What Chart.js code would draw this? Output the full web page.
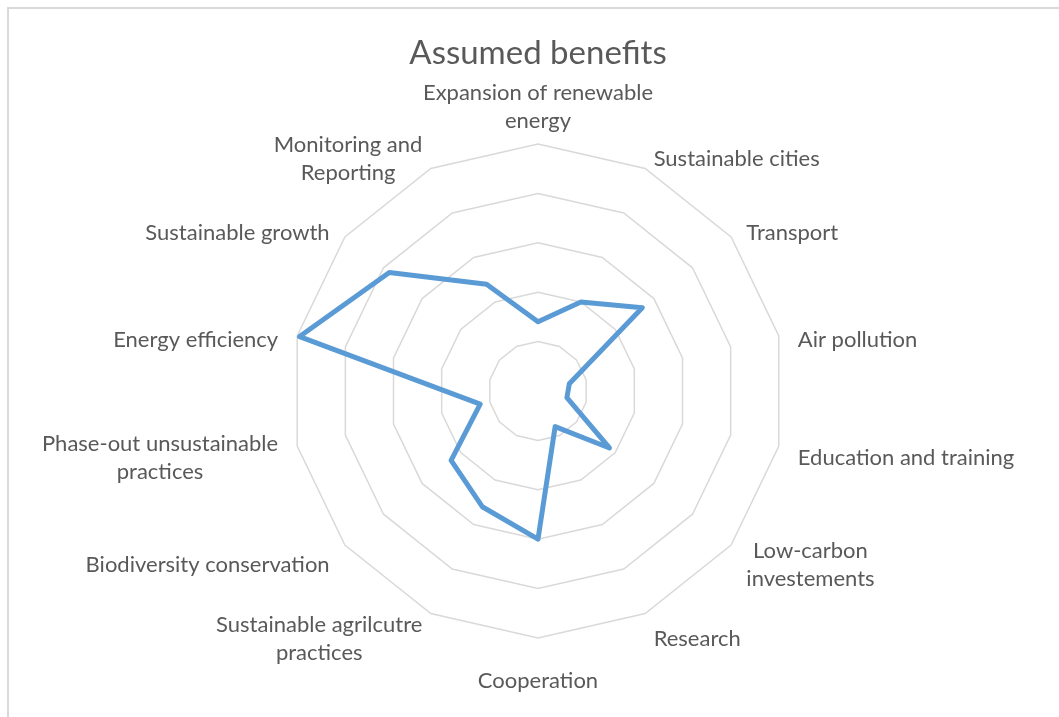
<!DOCTYPE html>
<html>
<head>
<meta charset="utf-8">
<title>Assumed benefits</title>
<script src="https://cdn.jsdelivr.net/npm/chart.js@4.4.1/dist/chart.umd.min.js"></script>
<style>
  html, body { margin: 0; padding: 0; background: #fff; overflow: hidden; }
  #frame {
    position: absolute; left: 7px; top: 7px; width: 1100px; height: 760px;
    border: 2px solid #d9d9d9; box-sizing: border-box;
  }
  #chart { position: absolute; left: 0; top: 0; }
</style>
</head>
<body>
<div id="frame"></div>
<canvas id="chart" width="1059" height="717"></canvas>
<script>
// categories, clockwise from the top
const categories = [
  ["Expansion of renewable", "energy"],
  "Sustainable cities",
  "Transport",
  "Air pollution",
  "Education and training",
  ["Low-carbon", "investements"],
  "Research",
  "Cooperation",
  ["Sustainable agrilcutre", "practices"],
  "Biodiversity conservation",
  ["Phase-out unsustainable", "practices"],
  "Energy efficiency",
  "Sustainable growth",
  ["Monitoring and", "Reporting"],
];

// values (rings at 1..5)
const benefitValues = [1.4, 2.0, 2.7, 0.65, 0.6, 1.85, 0.8, 3.0, 2.6, 2.25, 1.2, 4.95, 3.85, 2.4];

const scaleMax = 5;
const scaleStep = 1;

const textColor = "#595959";
const gridColor = "#d9d9d9";
const lineColor = "#5b9bd5";
const labelFont = "22px Lato";
const labelLineGap = 28;

// Excel-style category labels: left/right aligned to the outer point,
// multi-line blocks centred on themselves
const excelPointLabels = {
  id: "excelPointLabels",
  afterDraw(chart) {
    const scale = chart.scales.r;
    const ctx = chart.ctx;
    const n = categories.length;
    ctx.save();
    ctx.font = labelFont;
    ctx.fillStyle = textColor;
    ctx.textAlign = "center";
    ctx.textBaseline = "middle";
    categories.forEach((label, i) => {
      const lines = Array.isArray(label) ? label : [label];
      const pos = scale.getPointPosition(i, scale.drawingArea + 19.5);
      const w = Math.max(...lines.map((l) => ctx.measureText(l).width));
      const h = (lines.length - 1) * labelLineGap;
      const deg = Math.round((i * 360) / n);
      let cx;
      let firstY;
      if (deg === 0) {
        cx = pos.x;
        firstY = pos.y - 4 - h;
      } else if (deg === 180) {
        cx = pos.x;
        firstY = pos.y + 23;
      } else if (deg < 180) {
        cx = pos.x + w / 2;
        firstY = pos.y + 8 - h / 2;
      } else {
        cx = pos.x - w / 2;
        firstY = pos.y + 8 - h / 2;
      }
      lines.forEach((line, k) => ctx.fillText(line, cx, firstY + k * labelLineGap));
    });
    ctx.restore();
  },
};

new Chart(document.getElementById("chart"), {
  type: "radar",
  data: {
    labels: categories,
    datasets: [
      {
        label: "Assumed benefits",
        data: benefitValues,
        borderColor: lineColor,
        backgroundColor: "rgba(0,0,0,0)",
        borderWidth: 5,
        borderJoinStyle: "round",
        fill: false,
        pointRadius: 0,
        pointHoverRadius: 0,
        tension: 0,
      },
    ],
  },
  options: {
    responsive: false,
    animation: false,
    layout: {
      padding: { left: 44, right: 27, top: 0, bottom: 79 },
    },
    plugins: {
      legend: { display: false },
      tooltip: { enabled: false },
      title: {
        display: true,
        text: "Assumed benefits",
        color: textColor,
        font: { family: "Lato", size: 33, weight: "normal", lineHeight: 1.2 },
        padding: { top: 34, bottom: 70.4 },
      },
    },
    scales: {
      r: {
        min: 0,
        max: scaleMax,
        ticks: { display: false, stepSize: scaleStep },
        angleLines: { display: false },
        grid: { color: gridColor, lineWidth: 1.5, circular: false },
        pointLabels: { display: false },
      },
    },
  },
  plugins: [excelPointLabels],
});
</script>
</body>
</html>
